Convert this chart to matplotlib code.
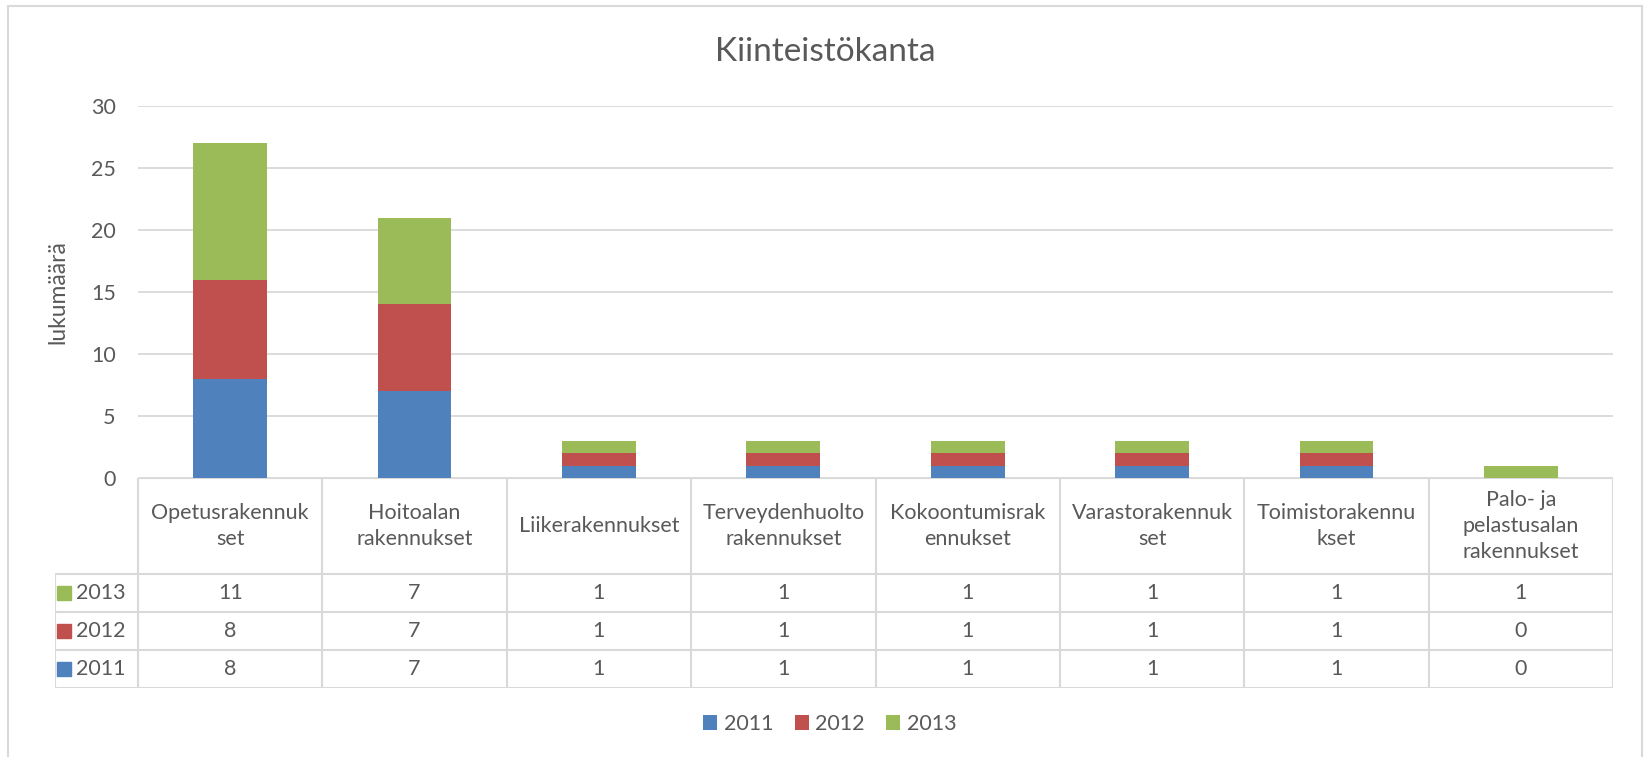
import numpy as np
import matplotlib
matplotlib.use('Agg')
import matplotlib.pyplot as plt
from matplotlib.patches import Rectangle

plt.rcParams['font.family'] = ['Lato', 'DejaVu Sans']

categories = ['Opetusrakennuk\nset', 'Hoitoalan\nrakennukset', 'Liikerakennukset',
              'Terveydenhuolto\nrakennukset', 'Kokoontumisrak\nennukset',
              'Varastorakennuk\nset', 'Toimistorakennu\nkset',
              'Palo- ja\npelastusalan\nrakennukset']
years = ['2011', '2012', '2013']
v2011 = [8, 7, 1, 1, 1, 1, 1, 0]
v2012 = [8, 7, 1, 1, 1, 1, 1, 0]
v2013 = [11, 7, 1, 1, 1, 1, 1, 1]
colors = ['#4F81BD', '#C0504D', '#9BBB59']

TXT = '#595959'
GRID = '#d9d9d9'
FS = 15.5
W, H = 1644, 757

fig = plt.figure(figsize=(W / 100, H / 100), dpi=100)
fig.patches.append(Rectangle((8 / W, -0.01), (1642 - 8) / W, 1.01 - 6 / H,
                             transform=fig.transFigure, facecolor='white',
                             edgecolor=GRID, lw=1.5, zorder=-10))

# main plot area
ax = fig.add_axes([138 / W, 1 - 478 / H, (1613 - 138) / W, (478 - 106) / H])
x = np.arange(len(categories))
series = [v2011, v2012, v2013]
bottom = np.zeros(len(categories))
bars = []
for vals, col, yr in zip(series, colors, years):
    b = ax.bar(x, vals, 0.4, bottom=bottom, color=col, label=yr, zorder=3)
    bars.append(b)
    bottom += np.array(vals)

ax.set_xlim(-0.5, len(categories) - 0.5)
ax.set_ylim(0, 30)
ax.set_yticks(np.arange(0, 31, 5))
ax.set_xticks([])
ax.yaxis.grid(True, color=GRID, lw=1.3)
ax.set_axisbelow(True)
for s in ax.spines.values():
    s.set_visible(False)
ax.tick_params(axis='y', length=0, pad=16, labelsize=FS, labelcolor=TXT)
ax.set_ylabel('lukumäärä', fontsize=FS + 1, color=TXT, labelpad=16)

fig.text(825 / W, 1 - 52 / H, 'Kiinteistökanta', fontsize=24, color=TXT,
         ha='center', va='center')

# data table under the bars
tax = fig.add_axes([55 / W, 1 - 688 / H, (1613 - 55) / W, (688 - 478) / H])
left_edge = -0.5 - 83 / 184.375
tax.set_xlim(left_edge, len(categories) - 0.5)
tax.set_ylim(210, 0)
tax.axis('off')
row_lines = [0, 96, 134, 172, 210]
lkw = dict(color=GRID, lw=1.5, solid_capstyle='projecting')
tax.plot([-0.5, len(categories) - 0.5], [0, 0], **lkw)
for yl in row_lines[1:]:
    tax.plot([left_edge, len(categories) - 0.5], [yl, yl], **lkw)
for xl in np.arange(len(categories) + 1) - 0.5:
    tax.plot([xl, xl], [0, 210], **lkw)
tax.plot([left_edge, left_edge], [96, 210], **lkw)

for i, cat in enumerate(categories):
    tax.text(i, 48, cat, ha='center', va='center', fontsize=FS, color=TXT,
             linespacing=1.35)

row_y = [115, 153, 191]
for yr, vals, col, ry in zip(years[::-1], series[::-1], colors[::-1], row_y):
    tax.plot(left_edge + 0.05, ry, marker='s', ms=10, color=col, mec=col)
    tax.text(left_edge + 0.115, ry, yr, ha='left', va='center', fontsize=FS, color=TXT)
    for i, v in enumerate(vals):
        tax.text(i, ry, str(v), ha='center', va='center', fontsize=FS, color=TXT)

leg = fig.legend(handles=bars, labels=years, loc='center', ncol=3,
                 bbox_to_anchor=(830 / W, 1 - 724 / H), frameon=False,
                 fontsize=FS, handlelength=0.65, handleheight=0.65,
                 handletextpad=0.3, columnspacing=1.0)
for t in leg.get_texts():
    t.set_color(TXT)

fig.savefig('out.png', dpi=100, facecolor='white')
